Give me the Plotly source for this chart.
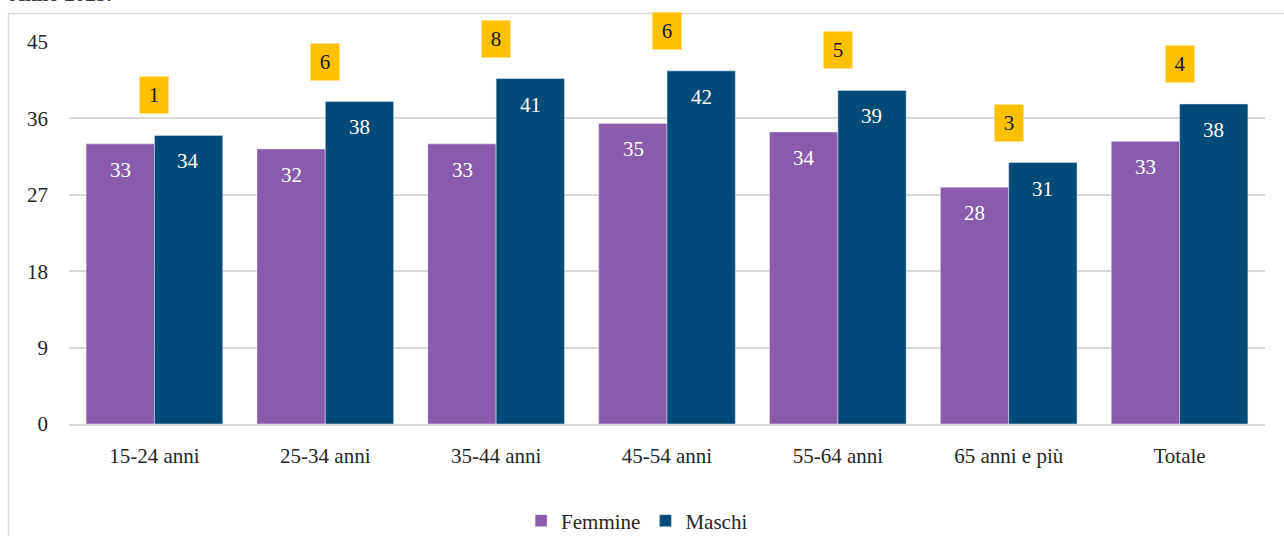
import plotly.graph_objects as go

categorie = ["15-24 anni", "25-34 anni", "35-44 anni", "45-54 anni", "55-64 anni", "65 anni e più", "Totale"]
femmine = [33.0, 32.4, 33.0, 35.4, 34.4, 27.9, 33.3]
maschi = [34.0, 38.0, 40.7, 41.6, 39.3, 30.8, 37.7]
differenza = [round(m - f) for m, f in zip(maschi, femmine)]
y_ticks = [0, 9, 18, 27, 36, 45]
Y_MAX = 45

COL_F = "#8A5BAA"
COL_M = "#024A77"
FONT = "Liberation Serif"
TXT = "#262626"
FS = 21

fig = go.Figure()
fig.add_trace(go.Bar(name="Femmine", x=categorie, y=femmine, marker_color=COL_F))
fig.add_trace(go.Bar(name="Maschi", x=categorie, y=maschi, marker_color=COL_M))

annotations = []
for i, c in enumerate(categorie):
    for vals, xs in ((femmine, -34), (maschi, 34)):
        annotations.append(dict(
            x=c, y=vals[i], xref="x", yref="y", text=str(round(vals[i])),
            showarrow=False, xshift=xs, yshift=-26, yanchor="middle",
            font=dict(family=FONT, size=FS, color="white")))
    # difference boxes (paper y so they stay visible above the axis range)
    annotations.append(dict(
        x=c, y=(maschi[i] + 4.7) / Y_MAX, xref="x", yref="paper", text=str(differenza[i]),
        showarrow=False, xshift=0, yanchor="middle", bgcolor="#FFC000",
        width=28, height=36, borderpad=0,
        font=dict(family=FONT, size=FS, color="#1a1a1a")))

annotations.append(dict(
    x=-0.051, y=1.089, xref="paper", yref="paper", xanchor="left", yanchor="bottom",
    text="<b>Anno 2023.</b>", showarrow=False,
    font=dict(family=FONT, size=FS, color="#3a3a3a")))

fig.update_layout(
    width=1284, height=536,
    margin=dict(l=69, r=19, t=42, b=112),
    paper_bgcolor="white", plot_bgcolor="white",
    barmode="group", bargap=0.2, bargroupgap=0,
    font=dict(family=FONT, size=FS, color=TXT),
    showlegend=True,
    legend=dict(orientation="h", x=0.475, xanchor="center", yref="container",
                y=0.028, yanchor="middle",
                font=dict(family=FONT, size=FS, color=TXT), itemwidth=30,
                traceorder="normal"),
    annotations=annotations,
    shapes=[dict(type="rect", xref="paper", yref="paper",
                 x0=-0.0506, x1=1.03, y0=-0.35, y1=1.0745,
                 line=dict(color="#D9D9D9", width=1.5), fillcolor="rgba(0,0,0,0)",
                 layer="below")],
)
fig.update_yaxes(range=[0, Y_MAX], tickvals=y_ticks, showgrid=True, gridcolor="#D9D9D9",
                 gridwidth=1.5, zeroline=False, showline=False, ticks="",
                 ticklabelstandoff=20, tickfont=dict(family=FONT, size=FS, color=TXT))
fig.update_xaxes(showline=True, linecolor="#D9D9D9", linewidth=1.5, ticks="",
                 ticklabelstandoff=12, tickfont=dict(family=FONT, size=FS, color=TXT))

fig.write_html("out.html")
